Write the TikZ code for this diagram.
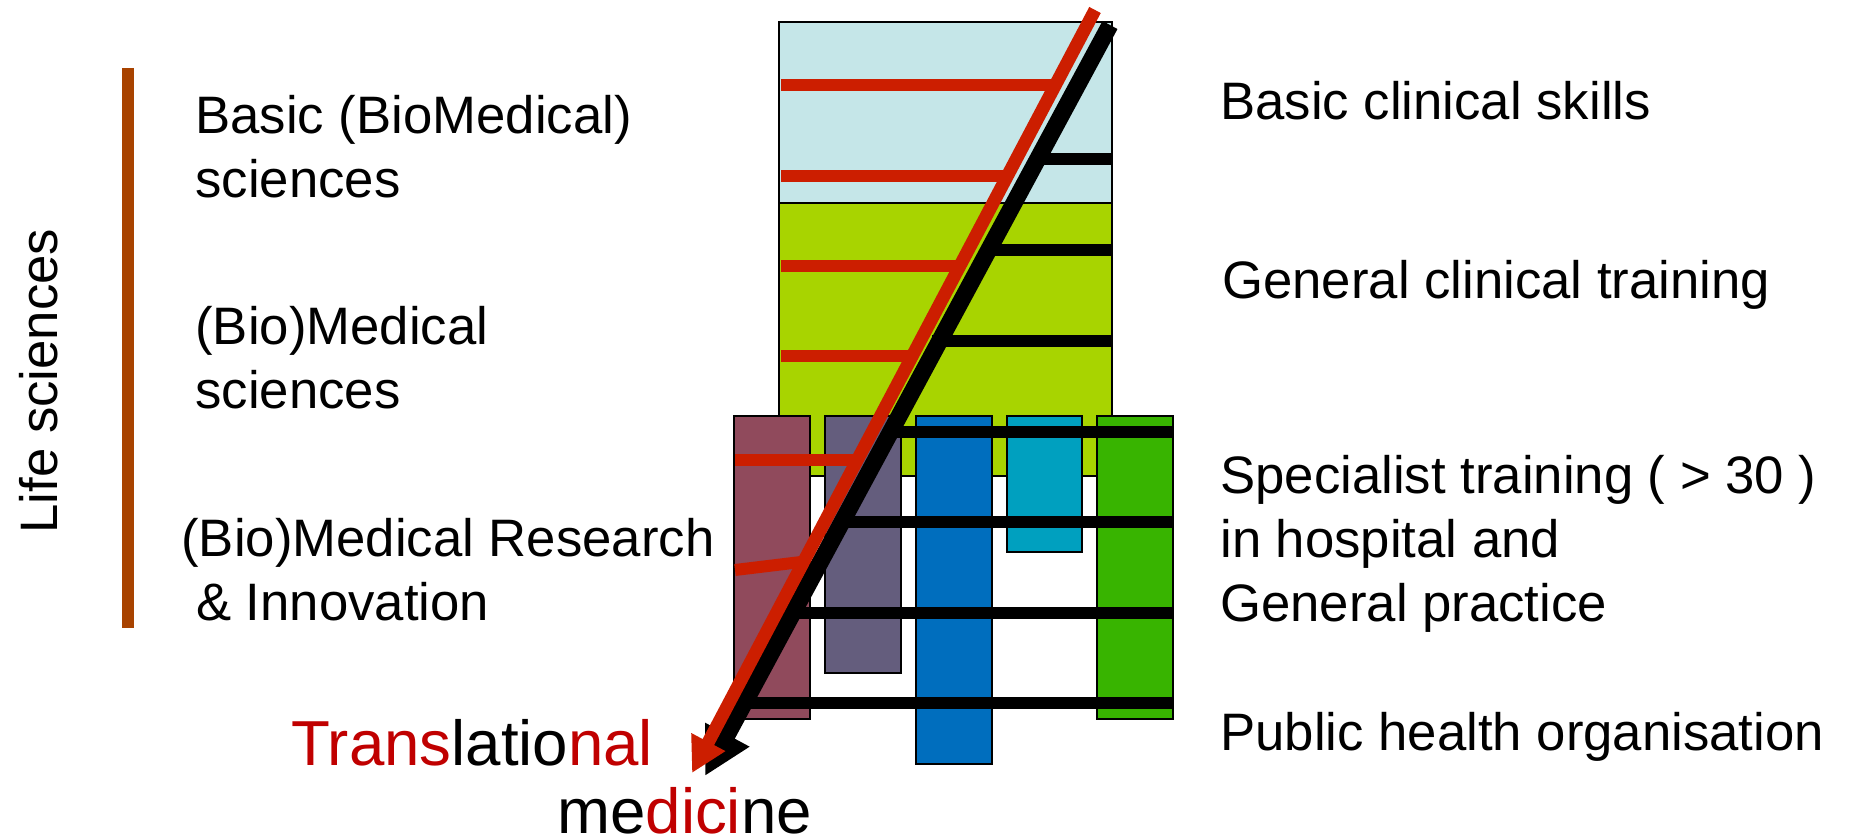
\documentclass[tikz,border=0pt]{standalone}
\usepackage{fontspec}
\setmainfont{Liberation Sans}
\usetikzlibrary{arrows.meta}
\definecolor{skyfill}{HTML}{C5E6E8}
\definecolor{leaf}{HTML}{A8D400}
\definecolor{plum}{HTML}{904A5C}
\definecolor{slate}{HTML}{645D7D}
\definecolor{ocean}{HTML}{006EBE}
\definecolor{lagoon}{HTML}{00A0BF}
\definecolor{grass}{HTML}{38B400}
\definecolor{rungred}{HTML}{CC1E00}
\definecolor{txtred}{HTML}{C00000}
\definecolor{lifebrown}{HTML}{A84300}
\begin{document}
\begin{tikzpicture}[x=0.02cm,y=-0.02cm]
	\tikzstyle{every node}=[font=\fontsize{30}{36.4}\selectfont,inner sep=0pt]
	\tikzstyle{box}=[draw=black,line width=0.8pt]
	\tikzstyle{rung}=[line width=0.24cm]
	\tikzstyle{txt}=[anchor=west,align=left]
	\tikzstyle{bigtxt}=[anchor=base west,font=\fontsize{36.2}{43}\selectfont]
	\useasboundingbox (0,0) rectangle (1852,837);
	% stages of training
	\draw[box,fill=skyfill] (779,22) rectangle (1112,203);
	\draw[box,fill=leaf] (779,203) rectangle (1112,476);
	% specialisations
	\draw[box,fill=plum] (734,416) rectangle (810,719);
	\draw[box,fill=slate] (825,416) rectangle (901,673);
	\draw[box,fill=ocean] (916,416) rectangle (992,764);
	\draw[box,fill=lagoon] (1007,416) rectangle (1082,552);
	\draw[box,fill=grass] (1097,416) rectangle (1173,719);
	% ladder rungs
	\foreach \y/\x in {159/1037,250/988,341/932}
		\draw[rung] (\x,\y) -- (1112,\y);
	\foreach \y/\x in {432/890,522/842,613/793,703/744}
		\draw[rung] (\x,\y) -- (1173,\y);
	\foreach \y/\x in {85/1055,176/1007,266/960,356/912}
		\draw[rung,rungred] (781,\y) -- (\x,\y);
	\draw[rung,rungred] (735,460) -- (857,460);
	\draw[rung,rungred] (735,570) -- (801,562);
	% the two arrows
	\coordinate (blktop) at (1110,25);
	\coordinate (blktip) at (705,776);
	\coordinate (redtop) at (1095,10);
	\coordinate (redtip) at (692,773);
	\draw[line width=0.34cm,-{Triangle[length=0.94cm,width=0.94cm]}] (blktop) -- (blktip);
	\draw[line width=0.26cm,rungred,-{Triangle[length=0.7cm,width=0.72cm]}] (redtop) -- (redtip);
	% life sciences
	\draw[line width=0.24cm,lifebrown] (128,68) -- (128,628);
	\node[rotate=90] (life) at (39,381) {Life sciences};
	\node[txt] (basic) at (195,147) {Basic (BioMedical)\\sciences};
	\node[txt] (medical) at (195,358) {(Bio)Medical\\sciences};
	\node[txt] (research) at (181,570) {(Bio)Medical Research\\\hspace*{0.28em}\& Innovation};
	% clinical side
	\node[txt] (skills) at (1220,101) {Basic clinical skills};
	\node[txt] (general) at (1222,285) {General clinical training};
	\node[txt] (special) at (1220,544) {Specialist training ( > 30 )\\in hospital and\\General practice};
	\node[txt] (public) at (1220,737) {Public health organisation};
	% translational medicine
	\node[bigtxt] (trans) at (291,765) {{\color{txtred}Trans}latio{\color{txtred}nal}};
	\node[bigtxt] (medicine) at (557,833) {me{\color{txtred}dici}ne};
\end{tikzpicture}
\end{document}
